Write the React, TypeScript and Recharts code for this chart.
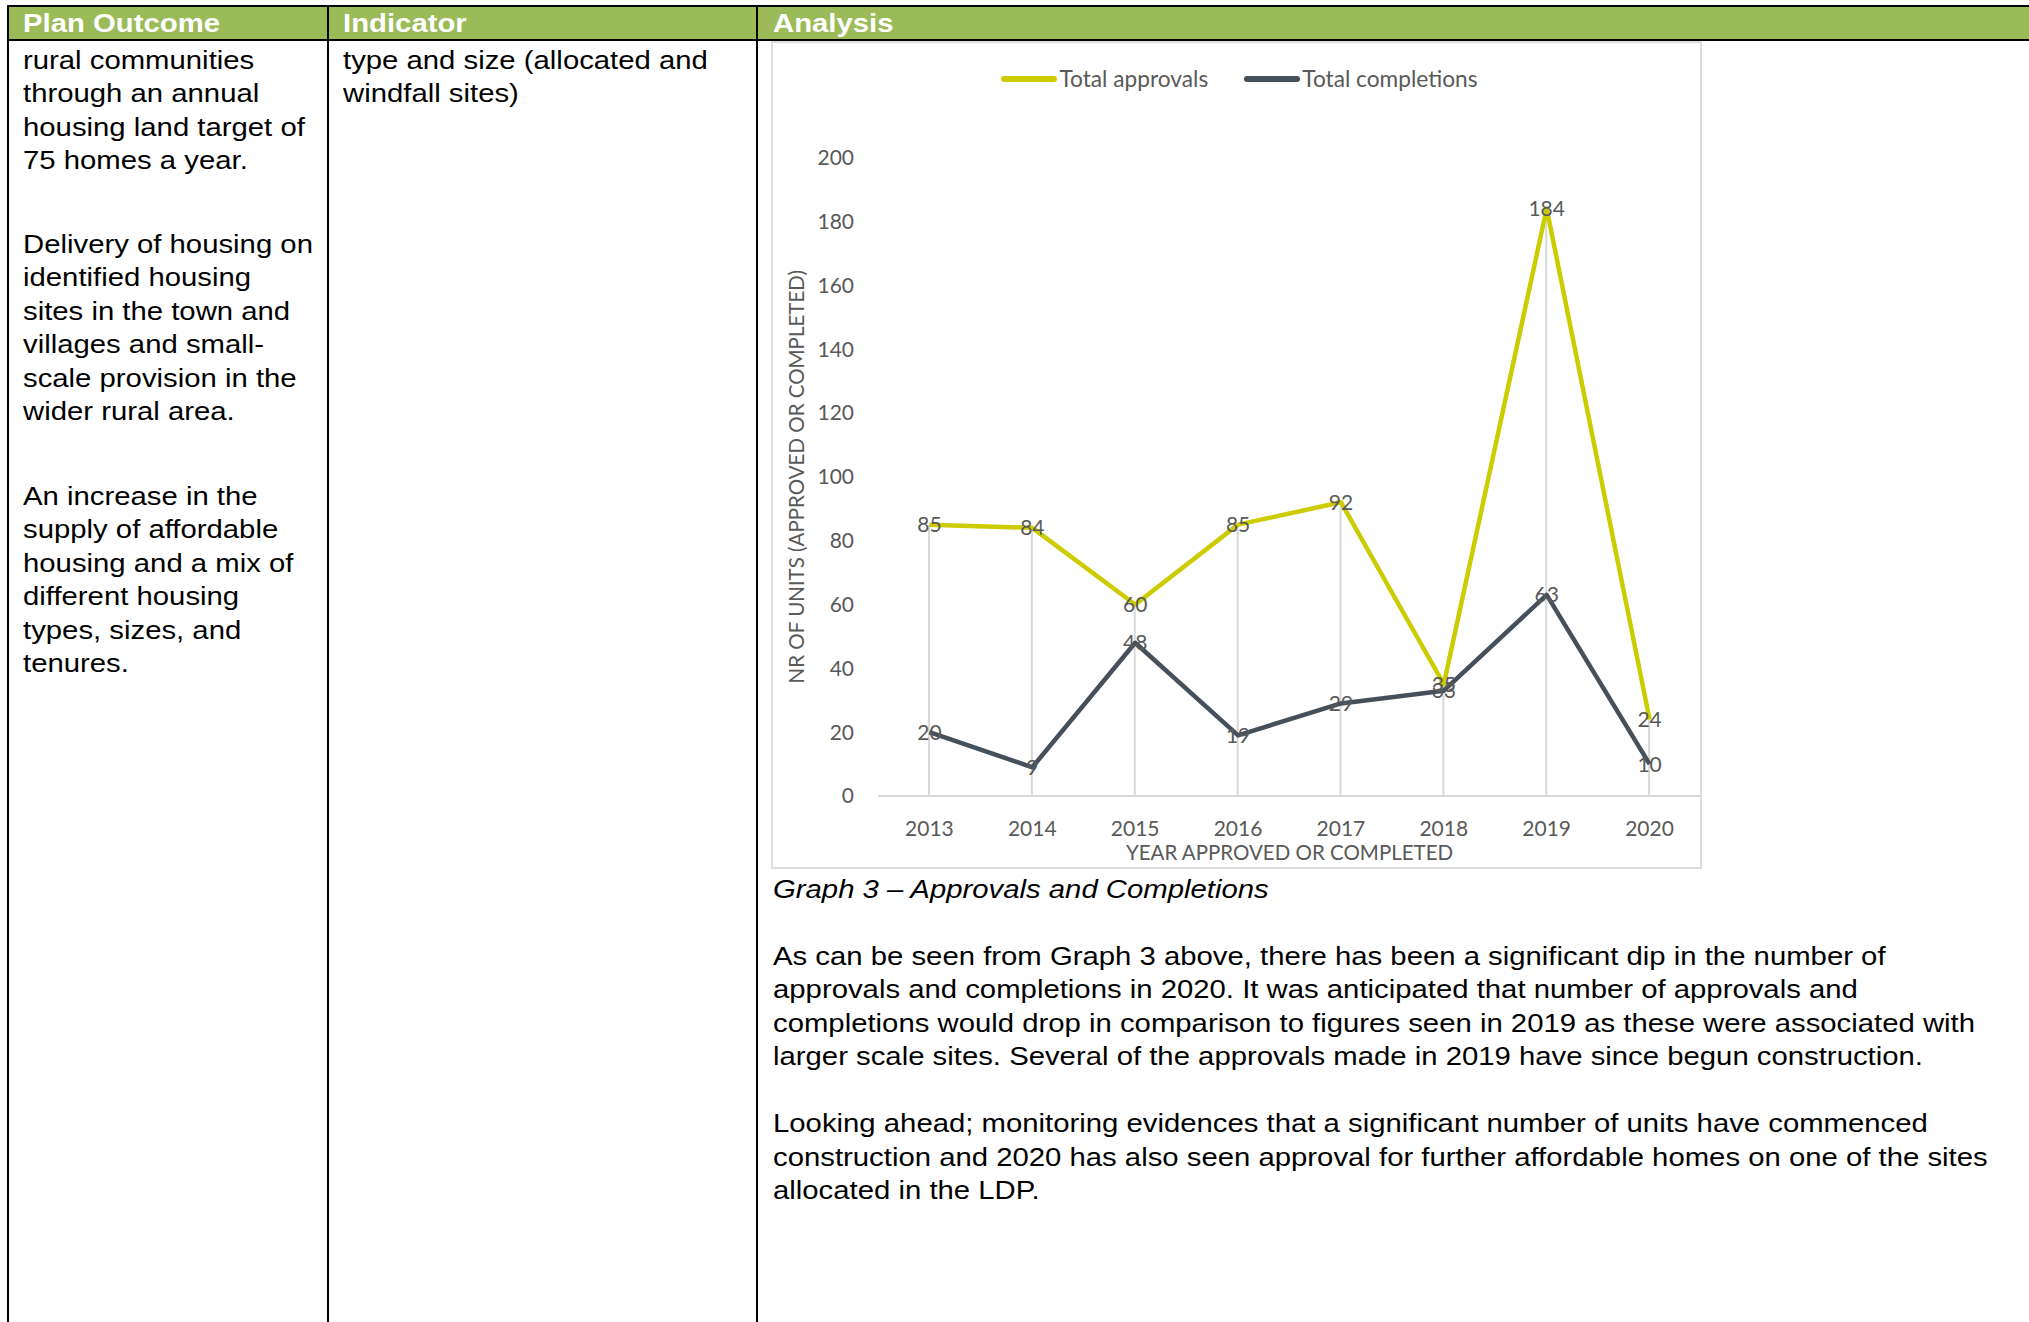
import React from 'react';
import { ComposedChart, Line, Bar, XAxis, YAxis, CartesianGrid, Legend, LabelList, Label } from 'recharts';

const years = ['2013', '2014', '2015', '2016', '2017', '2018', '2019', '2020'];
const approvals = [85, 84, 60, 85, 92, 35, 184, 24];
const completions = [20, 9, 48, 19, 29, 33, 63, 10];
const yTicks = [0, 20, 40, 60, 80, 100, 120, 140, 160, 180, 200];

const seriesNames = { approvals: 'Total approvals', completions: 'Total completions' };
const colApprovals = '#cccc00';
const colCompletions = '#46505a';

const headers = ['Plan Outcome', 'Indicator', 'Analysis'];
const outcomeParas = [
  ['rural communities', 'through an annual', 'housing land target of', '75 homes a year.'],
  ['Delivery of housing on', 'identified housing', 'sites in the town and', 'villages and small-', 'scale provision in the', 'wider rural area.'],
  ['An increase in the', 'supply of affordable', 'housing and a mix of', 'different housing', 'types, sizes, and', 'tenures.'],
];
const indicatorLines = ['type and size (allocated and', 'windfall sites)'];
const caption = 'Graph 3 \u2013 Approvals and Completions';
const analysisParas = [
  [
    'As can be seen from Graph 3 above, there has been a significant dip in the number of',
    'approvals and completions in 2020. It was anticipated that number of approvals and',
    'completions would drop in comparison to figures seen in 2019 as these were associated with',
    'larger scale sites. Several of the approvals made in 2019 have since begun construction.',
  ],
  [
    'Looking ahead; monitoring evidences that a significant number of units have commenced',
    'construction and 2020 has also seen approval for further affordable homes on one of the sites',
    'allocated in the LDP.',
  ],
];

const data = years.map((y, i) => ({
  year: y,
  approvals: approvals[i],
  completions: completions[i],
  drop: Math.max(approvals[i], completions[i]),
}));

const BODY_FONT = '"Liberation Sans", Arial, sans-serif';
const CHART_FONT = 'Lato, "Open Sans", sans-serif';
const SX = 1.127;

const textBlock = (left: number, top: number, lines: string[], extra: React.CSSProperties = {}) => (
  <div
    style={{
      position: 'absolute',
      left,
      top,
      fontFamily: BODY_FONT,
      fontSize: 26,
      lineHeight: '33.5px',
      color: '#000',
      whiteSpace: 'nowrap',
      transform: `scaleX(${SX})`,
      transformOrigin: '0 0',
      ...extra,
    }}
  >
    {lines.map((l, i) => (
      <div key={i}>{l}</div>
    ))}
  </div>
);

const LegendContent = () => (
  <div
    style={{
      display: 'flex',
      justifyContent: 'center',
      alignItems: 'center',
      fontFamily: CHART_FONT,
      fontSize: 22.7,
      color: '#595959',
      height: 28,
      paddingLeft: 6,
    }}
  >
    {[
      { name: seriesNames.approvals, color: colApprovals },
      { name: seriesNames.completions, color: colCompletions },
    ].map((it, i) => (
      <div key={i} style={{ display: 'flex', alignItems: 'center', marginLeft: i === 0 ? 0 : 36 }}>
        <svg width={56} height={8} style={{ display: 'block' }}>
          <line x1={3} y1={4} x2={53} y2={4} stroke={it.color} strokeWidth={6} strokeLinecap="round" />
        </svg>
        <span style={{ marginLeft: 2, lineHeight: '28px' }}>{it.name}</span>
      </div>
    ))}
  </div>
);

const YTitle = (props: any) => {
  const vb = props.viewBox || {};
  const x = vb.x - 22;
  const y = vb.y + vb.height / 2;
  return (
    <text
      x={x}
      y={y}
      transform={`rotate(-90, ${x}, ${y})`}
      textAnchor="middle"
      dominantBaseline="central"
      fill="#595959"
      fontFamily={CHART_FONT}
      fontSize={20.5}
    >
      NR OF UNITS (APPROVED OR COMPLETED)
    </text>
  );
};

const XTitle = (props: any) => {
  const vb = props.viewBox || {};
  return (
    <text
      x={vb.x + vb.width / 2}
      y={vb.y + 64}
      textAnchor="middle"
      fill="#595959"
      fontFamily={CHART_FONT}
      fontSize={20.5}
    >
      YEAR APPROVED OR COMPLETED
    </text>
  );
};

export default function App() {
  if (typeof document !== 'undefined') {
    document.body.style.margin = '0';
    document.body.style.overflow = 'hidden';
  }
  const vline = (left: number) => (
    <div style={{ position: 'absolute', left, top: 5, width: 2, height: 1317, background: '#000' }} />
  );
  const tickStyle = { fill: '#595959', fontFamily: CHART_FONT, fontSize: 21 };
  return (
    <div style={{ position: 'absolute', left: 0, top: 0, width: 2029, height: 1322, background: '#fff', overflow: 'hidden' }}>
      {/* header */}
      <div style={{ position: 'absolute', left: 7, top: 5, width: 2022, height: 2, background: '#000' }} />
      <div style={{ position: 'absolute', left: 9, top: 7, width: 2020, height: 32, background: '#9bbb59' }} />
      <div style={{ position: 'absolute', left: 7, top: 39, width: 2022, height: 2, background: '#000' }} />
      {vline(7)}
      {vline(327)}
      {vline(756)}
      {[23, 343, 772.5].map((x, i) => (
        <div
          key={i}
          style={{
            position: 'absolute',
            left: x,
            top: 7,
            height: 32,
            lineHeight: '32px',
            fontFamily: BODY_FONT,
            fontWeight: 'bold',
            fontSize: 26,
            color: '#fff',
            whiteSpace: 'nowrap',
            transform: `scaleX(${SX})`,
            transformOrigin: '0 0',
          }}
        >
          {headers[i]}
        </div>
      ))}

      {/* left column */}
      {textBlock(23, 43.5, outcomeParas[0])}
      {textBlock(23, 227.5, outcomeParas[1])}
      {textBlock(23, 479.5, outcomeParas[2])}

      {/* indicator column */}
      {textBlock(343, 43.5, indicatorLines)}

      {/* chart */}
      <div style={{ position: 'absolute', left: 771, top: 41, width: 931, height: 828 }}>
        <ComposedChart
          width={931}
          height={828}
          data={data}
          margin={{ top: 88.5, right: 1, left: 47, bottom: 13 }}
          style={{ background: '#fff' }}
        >
          <CartesianGrid horizontal={false} vertical={false} />
          <XAxis
            dataKey="year"
            axisLine={{ stroke: '#d9d9d9', strokeWidth: 2 }}
            tickLine={false}
            tickSize={6}
            tickMargin={19}
            height={60}
            tick={tickStyle}
            interval={0}
          >
            <Label content={XTitle} />
          </XAxis>
          <YAxis
            domain={[0, 200]}
            ticks={yTicks}
            axisLine={false}
            tickLine={false}
            tickSize={6}
            tickMargin={18}
            width={60}
            tick={tickStyle}
            interval={0}
          >
            <Label content={YTitle} />
          </YAxis>
          <Legend verticalAlign="top" content={LegendContent} wrapperStyle={{ top: 24, left: 0, width: 931 }} />
          <Bar dataKey="drop" barSize={2} fill="#d9d9d9" isAnimationActive={false} legendType="none" />
          <Line
            type="linear"
            dataKey="approvals"
            name={seriesNames.approvals}
            stroke={colApprovals}
            strokeWidth={4.5}
            strokeLinejoin="round"
            dot={false}
            activeDot={false}
            isAnimationActive={false}
          >
            <LabelList dataKey="approvals" position="center" fill="#595959" fontFamily={CHART_FONT} fontSize={21} />
          </Line>
          <Line
            type="linear"
            dataKey="completions"
            name={seriesNames.completions}
            stroke={colCompletions}
            strokeWidth={4.5}
            strokeLinejoin="round"
            dot={false}
            activeDot={false}
            isAnimationActive={false}
          >
            <LabelList dataKey="completions" position="center" fill="#595959" fontFamily={CHART_FONT} fontSize={21} />
          </Line>
        </ComposedChart>
        <div
          style={{
            position: 'absolute',
            left: 0,
            top: 0,
            width: 931,
            height: 828,
            boxSizing: 'border-box',
            border: '2px solid #dedede',
            pointerEvents: 'none',
          }}
        />
      </div>

      {/* analysis text */}
      {textBlock(772.5, 872.7, [caption], { fontStyle: 'italic' })}
      {textBlock(772.5, 939.7, analysisParas[0])}
      {textBlock(772.5, 1107.2, analysisParas[1])}
    </div>
  );
}
